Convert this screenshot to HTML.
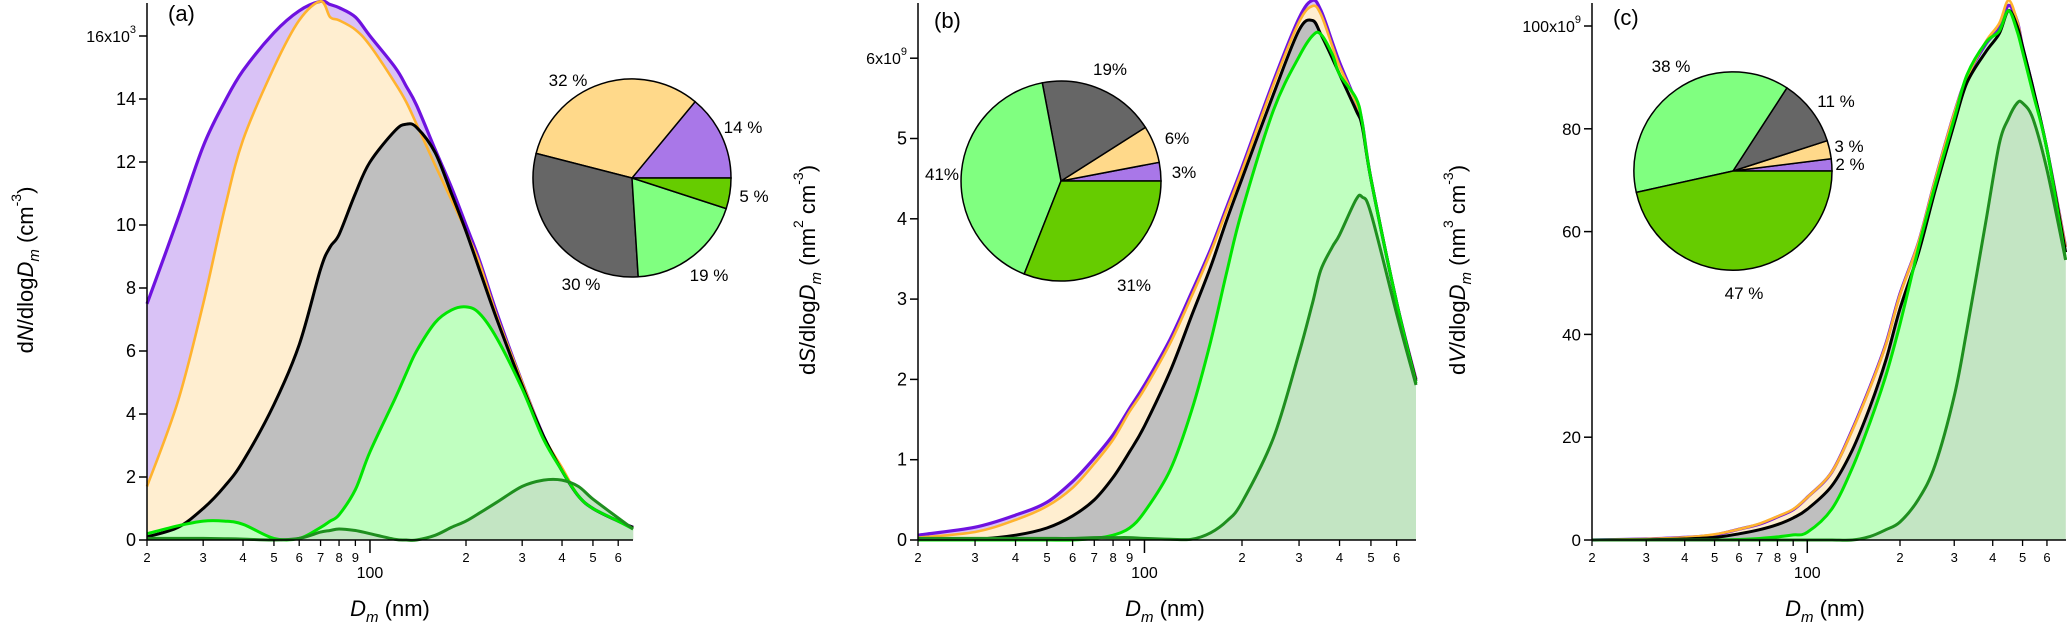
<!DOCTYPE html>
<html><head><meta charset="utf-8">
<style>
html,body{margin:0;padding:0;background:#fff;}
svg{display:block;font-family:"Liberation Sans",Arial,sans-serif;}
</style></head>
<body>
<svg id="fig" width="2067" height="624" viewBox="0 0 2067 624" xmlns="http://www.w3.org/2000/svg"></svg>
<script>
// ---------- Panel (a): number distribution (x10^3 cm^-3) ----------
const diamA = [20,25,30,35,40,50,60,70,75,80,90,100,120,130,140,160,180,200,220,250,300,350,400,450,500,600,668];
const purpleA = [7.5,10.2,12.5,13.9,14.9,16.1,16.8,17.1,17.0,16.9,16.6,16.0,15.0,14.4,13.8,12.4,11.2,10.0,8.9,7.2,5.0,3.3,2.2,1.4,1.0,0.6,0.4];
const orangeA = [1.7,4.4,7.5,10.5,12.7,15.0,16.5,17.1,16.6,16.5,16.2,15.7,14.5,13.9,13.2,11.9,10.8,9.8,8.8,7.1,5.0,3.3,2.3,1.4,1.0,0.6,0.4];
const blackA = [0.1,0.4,1.0,1.7,2.5,4.3,6.2,8.6,9.3,9.7,11.0,12.0,13.0,13.2,13.1,12.3,11.0,9.8,8.6,7.0,4.9,3.3,2.2,1.4,1.0,0.6,0.4];
const lgreenA = [0.2,0.45,0.6,0.6,0.5,0.05,0.05,0.4,0.6,0.8,1.6,2.8,4.5,5.3,6.0,6.9,7.3,7.4,7.2,6.4,4.8,3.2,2.2,1.4,1.0,0.6,0.35];
const dgreenA = [0.05,0.05,0.05,0.04,0.03,0.0,0.05,0.25,0.3,0.35,0.3,0.2,0.02,0.0,0.0,0.15,0.4,0.6,0.85,1.2,1.7,1.9,1.9,1.7,1.3,0.7,0.35];
const yTicksA = [0,2,4,6,8,10,12,14,16];
const yTickLabelsA = ["0","2","4","6","8","10","12","14","16x10"];
const pieA = [14,32,30,19,5];
const pieLabelsA = ["14 %","32 %","30 %","19 %","5 %"];

// ---------- Panel (b): surface distribution (x10^9) ----------
const diamB = [20,30,40,50,60,70,80,90,100,120,140,160,180,200,250,300,330,350,380,400,450,470,500,600,689];
const purpleB = [.06,.16,.31,.47,.73,1.02,1.31,1.64,1.93,2.5,3.09,3.62,4.16,4.64,5.71,6.5,6.72,6.6,6.2,5.95,5.45,5.2,4.5,2.96,2.0];
const orangeB = [.03,.1,.25,.42,.65,.95,1.25,1.6,1.88,2.45,3.04,3.58,4.12,4.6,5.67,6.45,6.65,6.55,6.15,5.9,5.45,5.2,4.5,2.96,2.0];
const blackB = [0,.01,.06,.15,.3,.5,.78,1.1,1.42,2.1,2.8,3.4,4.0,4.5,5.55,6.35,6.47,6.3,6.0,5.8,5.35,5.15,4.5,2.96,1.98];
const lgreenB = [0,0,0,0,0,.02,.06,.15,.35,.87,1.62,2.47,3.36,4.1,5.35,6.02,6.28,6.3,6.05,5.8,5.5,5.2,4.5,2.96,1.95];
const dgreenB = [.02,.02,.02,.02,.02,.03,.03,.03,.02,.01,.01,.09,.24,.47,1.27,2.33,2.95,3.36,3.65,3.8,4.24,4.27,4.07,2.82,1.93];
const yTicksB = [0,1,2,3,4,5,6];
const yTickLabelsB = ["0","1","2","3","4","5","6x10"];
const pieB = [3,6,19,41,31];
const pieLabelsB = ["3%","6%","19%","41%","31%"];

// ---------- Panel (c): volume distribution (x10^9) ----------
const diamC = [20,30,40,50,60,70,80,90,100,120,140,160,180,200,230,260,300,330,380,420,450,480,500,540,600,690];
const purpleC = [0,.2,.5,1.0,2.1,3.1,4.5,5.9,8.3,13.2,21.5,29.9,38.2,47.9,58,70,83,90,96.5,99.5,104,101,96,88,76,57];
const orangeC = [0,.2,.5,1.1,2.1,3.2,4.6,6.0,8.3,13.2,21.3,29.7,38,47.7,58,70,83,90,97,100.5,105,101,96,88,76,57];
const blackC = [0,.05,.2,.5,1.2,2.0,3.0,4.3,6.0,10.5,17.5,26,35,45,56,68,81,89,95,98.5,103,100,96,88,76,56];
const lgreenC = [0,0,0,0,.1,.3,.6,1.0,1.5,6,14,23,32,42,57,69,82,90.5,96.8,99,103,99,95,87,76,54.5];
const dgreenC = [0,0,0,0,0,0,0,0,0,0,0,.7,2,3.5,8,14.6,28,41,62,77,82,85,85,82,72,54.5];
const yTicksC = [0,20,40,60,80,100];
const yTickLabelsC = ["0","20","40","60","80","100x10"];
const pieC = [2,3,11,38,47];
const pieLabelsC = ["2 %","3 %","11 %","38 %","47 %"];

const minorLabels = ["2","3","4","5","6","7","8","9"];
const NS = "http://www.w3.org/2000/svg";
const svg = document.getElementById('fig');

function mk(tag, attrs, parent){
  const e = document.createElementNS(NS, tag);
  for (const k in attrs) e.setAttribute(k, attrs[k]);
  (parent||svg).appendChild(e);
  return e;
}
function txt(parent, x, y, s, size, anchor, extra){
  const t = mk('text', Object.assign({x:x, y:y, 'font-size':size, 'text-anchor':anchor||'middle', fill:'#000'}, extra||{}), parent);
  t.textContent = s;
  return t;
}
function smoothPath(pts){
  let d = 'M'+pts[0][0].toFixed(1)+','+pts[0][1].toFixed(1);
  for (let i=0;i<pts.length-1;i++){
    const p0=pts[Math.max(0,i-1)], p1=pts[i], p2=pts[i+1], p3=pts[Math.min(pts.length-1,i+2)];
    const c1=[p1[0]+(p2[0]-p0[0])/6, p1[1]+(p2[1]-p0[1])/6];
    const c2=[p2[0]-(p3[0]-p1[0])/6, p2[1]-(p3[1]-p1[1])/6];
    d += ' C'+c1[0].toFixed(1)+','+c1[1].toFixed(1)+' '+c2[0].toFixed(1)+','+c2[1].toFixed(1)+' '+p2[0].toFixed(1)+','+p2[1].toFixed(1);
  }
  return d;
}

function panel(cfg){
  const g = mk('g', {});
  
  
  const y0 = 540;
  const xs = d => cfg.x0 + cfg.dec*Math.log10(d/20);
  const ys = v => y0 - v*cfg.ppu;
  const xEnd = cfg.xEnd;
  const series = [
    {vals:cfg.purple, fill:'#d9c2f6', line:'#6f12e0', w:3.2, n:'total-series'},
    {vals:cfg.orange, fill:'#ffeed0', line:'#ffb32e', w:2.6, n:'orange-series'},
    {vals:cfg.black, fill:'#bfbfbf', line:'#000000', w:3, n:'black-series'},
    {vals:cfg.lgreen, fill:'#c0ffc0', line:'#00e600', w:3, n:'light-green-series'},
    {vals:cfg.dgreen, fill:'#c3e5c3', line:'#1f8f1f', w:3, n:'dark-green-series'}
  ];
  series.forEach(s=>{
    const pts = cfg.diam.map((d,i)=>[xs(d), ys(s.vals[i])]);
    const dl = smoothPath(pts);
    const area = mk('path', {d: dl+' L'+pts[pts.length-1][0].toFixed(1)+','+y0+' L'+pts[0][0].toFixed(1)+','+y0+' Z', fill:s.fill, stroke:'none'}, g);
    
    
  });
  series.forEach(s=>{
    const pts = cfg.diam.map((d,i)=>[xs(d), ys(s.vals[i])]);
    const ln = mk('path', {d: smoothPath(pts), fill:'none', stroke:s.line, 'stroke-width':s.w, 'stroke-linejoin':'round'}, g);
    
    
  });
  // axes
  const yax = mk('line', {x1:cfg.x0, y1:3, x2:cfg.x0, y2:y0, stroke:'#000', 'stroke-width':1.5}, g);
  
  
  const xax = mk('line', {x1:cfg.x0, y1:y0, x2:xEnd, y2:y0, stroke:'#000', 'stroke-width':1.5}, g);
  
  
  cfg.yTicks.forEach((v,i)=>{
    const yy = ys(v);
    mk('line', {x1:cfg.x0-8, y1:yy, x2:cfg.x0, y2:yy, stroke:'#000', 'stroke-width':1.5}, g);
    const lab = txt(g, cfg.x0-11, yy+6, cfg.yLabels[i], cfg.tickFont, 'end');
    
    
    if (i === cfg.yTicks.length-1){
      const sup = mk('tspan', {dy:-9, 'font-size':11}, lab);
      sup.textContent = cfg.supExp;
      lab.setAttribute('font-size', cfg.topFont);
    }
  });
  // x ticks
  [20,30,40,50,60,70,80,90].forEach((d,i)=>{
    const xx = xs(d);
    mk('line', {x1:xx, y1:y0, x2:xx, y2:y0+6, stroke:'#000', 'stroke-width':1.3}, g);
    const l = txt(g, xx, y0+22, minorLabels[i], 13);
    
    
  });
  [200,300,400,500,600].forEach((d,i)=>{
    const xx = xs(d);
    mk('line', {x1:xx, y1:y0, x2:xx, y2:y0+6, stroke:'#000', 'stroke-width':1.3}, g);
    const l = txt(g, xx, y0+22, minorLabels[i], 13);
    
    
  });
  const x100 = xs(100);
  mk('line', {x1:x100, y1:y0, x2:x100, y2:y0+13, stroke:'#000', 'stroke-width':1.5}, g);
  const l100 = txt(g, x100, y0+38, '100', 16);
  
  
  // x title
  const xt = txt(g, cfg.xTitleX, 616, '', 22);
  
  
  const t1 = mk('tspan', {'font-style':'italic'}, xt); t1.textContent='D';
  const t2 = mk('tspan', {'font-style':'italic', 'font-size':15, dy:6}, xt); t2.textContent='m';
  const t3 = mk('tspan', {dy:-6}, xt); t3.textContent = cfg.xGap+'(nm)';
  // y title
  const yt = mk('text', {x:0, y:0, 'font-size':22, 'text-anchor':'middle', fill:'#000', transform:'translate('+cfg.yTitleX+',270) rotate(-90)'}, g);
  
  
  const a1 = mk('tspan', {}, yt); a1.textContent='d';
  const a2 = mk('tspan', {'font-style':'italic'}, yt); a2.textContent=cfg.qty;
  const a3 = mk('tspan', {}, yt); a3.textContent='/dlog';
  const a4 = mk('tspan', {'font-style':'italic'}, yt); a4.textContent='D';
  const a5 = mk('tspan', {'font-style':'italic','font-size':15, dy:6}, yt); a5.textContent='m';
  const a6 = mk('tspan', {dy:-6}, yt); a6.textContent=' (';
  if (cfg.unitPre){ const u=mk('tspan',{},yt); u.textContent=cfg.unitPre; const us=mk('tspan',{'font-size':14, dy:-12},yt); us.textContent=cfg.unitPreExp; const ub=mk('tspan',{dy:12},yt); ub.textContent=' '; }
  const a7 = mk('tspan', {}, yt); a7.textContent='cm';
  const a8 = mk('tspan', {'font-size':14, dy:-12}, yt); a8.textContent='-3';
  const a9 = mk('tspan', {dy:12}, yt); a9.textContent=')';
  // panel label
  const pl = txt(g, cfg.labX, cfg.labY, cfg.lab, 22, 'start');
  
  
  // pie
  const pieColors = ['#a977e8','#ffd98a','#666666','#80ff80','#66cc00'];
  const pieNames = ['pie-slice-purple','pie-slice-orange','pie-slice-gray','pie-slice-light-green','pie-slice-green'];
  const tot = cfg.pie.reduce((a,b)=>a+b,0);
  let acc = 0;
  const pg = mk('g', {}, g);
  
  
  cfg.pie.forEach((p,i)=>{
    const a0 = acc/tot*2*Math.PI; acc += p; const a1v = acc/tot*2*Math.PI;
    const x1 = cfg.pcx + cfg.pr*Math.cos(a0), y1 = cfg.pcy - cfg.pr*Math.sin(a0);
    const x2 = cfg.pcx + cfg.pr*Math.cos(a1v), y2 = cfg.pcy - cfg.pr*Math.sin(a1v);
    const large = (a1v-a0) > Math.PI ? 1 : 0;
    const sl = mk('path', {d:'M'+cfg.pcx+','+cfg.pcy+' L'+x1.toFixed(1)+','+y1.toFixed(1)+' A'+cfg.pr+','+cfg.pr+' 0 '+large+' 0 '+x2.toFixed(1)+','+y2.toFixed(1)+' Z', fill:pieColors[i], stroke:'#000', 'stroke-width':1.5}, pg);
    
    
    const pt = txt(pg, cfg.pieLabPos[i][0], cfg.pieLabPos[i][1], cfg.pieLabels[i], 17, 'middle');
    
    
  });
}

panel({name:'panel-a-number', x0:147, dec:319, xEnd:633, ppu:31.5, diam:diamA,
  purple:purpleA, orange:orangeA, black:blackA, lgreen:lgreenA, dgreen:dgreenA,
  yTicks:yTicksA, yLabels:yTickLabelsA, supExp:'3', tickFont:18, topFont:16,
  xTitleX:390, xGap:'  ', yTitleX:33, qty:'N', lab:'(a)', labX:168, labY:21,
  pie:pieA, pieLabels:pieLabelsA, pcx:632, pcy:178, pr:99,
  pieLabPos:[[743,133],[568,86],[581,290],[709,281],[754,202]]});
panel({name:'panel-b-surface', x0:918, dec:324, xEnd:1416, ppu:80.3, diam:diamB,
  purple:purpleB, orange:orangeB, black:blackB, lgreen:lgreenB, dgreen:dgreenB,
  yTicks:yTicksB, yLabels:yTickLabelsB, supExp:'9', tickFont:18, topFont:16,
  xTitleX:1165, xGap:' ', yTitleX:815, qty:'S', unitPre:'nm', unitPreExp:'2', lab:'(b)', labX:934, labY:28,
  pie:pieB, pieLabels:pieLabelsB, pcx:1061, pcy:181, pr:100,
  pieLabPos:[[1184,178],[1177,144],[1110,75],[942,180],[1134,291]]});
panel({name:'panel-c-volume', x0:1592, dec:308, xEnd:2066, ppu:5.14, diam:diamC,
  purple:purpleC, orange:orangeC, black:blackC, lgreen:lgreenC, dgreen:dgreenC,
  yTicks:yTicksC, yLabels:yTickLabelsC, supExp:'9', tickFont:17, topFont:16,
  xTitleX:1825, xGap:' ', yTitleX:1465, qty:'V', unitPre:'nm', unitPreExp:'3', lab:'(c)', labX:1613, labY:25,
  pie:pieC, pieLabels:pieLabelsC, pcx:1733, pcy:171, pr:99,
  pieLabPos:[[1850,170],[1849,152],[1836,107],[1671,72],[1744,299]]});
</script>
</body></html>
